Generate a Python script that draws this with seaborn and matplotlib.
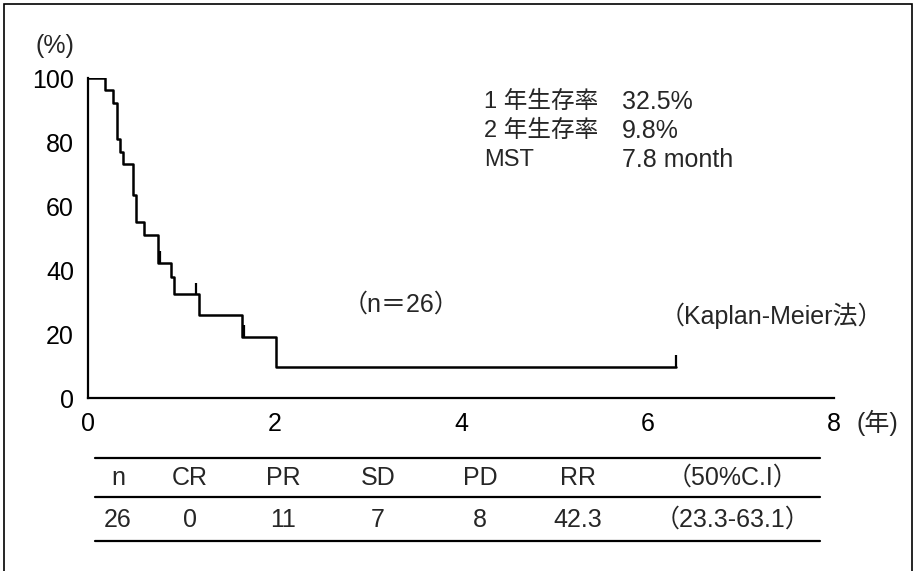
import matplotlib
matplotlib.use("Agg")
import matplotlib.pyplot as plt
from matplotlib import font_manager
from matplotlib.lines import Line2D
from matplotlib.patches import Rectangle
import pandas as pd
import seaborn as sns

# Kaplan-Meier steps (years, % surviving)
event_times = [0.0, 0.18, 0.27, 0.31, 0.34, 0.38, 0.48, 0.52, 0.60, 0.75, 0.89, 0.92, 1.19, 1.65, 2.02]
survival = [100, 96.2, 92.3, 80.8, 76.9, 73.1, 63.5, 55.0, 51.0, 42.3, 37.8, 32.5, 26.0, 19.2, 9.8]
last_followup = 6.31

# censored observations (small upward ticks)
censor_times = [0.77, 1.16, 1.67, 6.31]
censor_surv = [42.3, 32.5, 19.2, 9.8]

x_ticks = [0, 2, 4, 6, 8]
y_ticks = [0, 20, 40, 60, 80, 100]

stats_labels = ["1 年生存率", "2 年生存率", "MST"]
stats_values = ["32.5%", "9.8%", "7.8 month"]

table_header = ["n", "CR", "PR", "SD", "PD", "RR", "（50%C.I）"]
table_row = ["26", "0", "11", "7", "8", "42.3", "（23.3-63.1）"]

W, H = 915, 571


def fx(px):
    return px / W


def fy(py):
    return 1 - py / H


sns.set_theme(style="white")
plt.rcParams["font.family"] = ["Liberation Sans", "Noto Sans CJK JP", "DejaVu Sans"]
installed = {f.name for f in font_manager.fontManager.ttflist}
narrow = ["Liberation Sans Narrow"] if "Liberation Sans Narrow" in installed else []
table_family = narrow + ["Liberation Sans", "Noto Sans CJK JP", "DejaVu Sans"]

fig = plt.figure(figsize=(W / 100, H / 100), dpi=100)
fig.patch.set_facecolor("white")

# outer frame of the scanned figure
fig.add_artist(Rectangle((fx(4), -0.05), fx(908), fy(4) + 0.05, transform=fig.transFigure,
                         fill=False, lw=1.2, ec="black"))

ax = fig.add_axes([fx(88), fy(398), fx(834 - 88), (398 - 78) / H])

km = pd.DataFrame({"time": event_times + [last_followup],
                   "surv": survival + [survival[-1]]})
sns.lineplot(data=km, x="time", y="surv", drawstyle="steps-post", color="black",
             lw=1.8, estimator=None, ax=ax)
ax.vlines(censor_times, censor_surv, [s + 3.5 for s in censor_surv], color="black", lw=1.6)

ax.set_xlim(0, 8)
ax.set_ylim(0, 100)
ax.set_xticks(x_ticks)
ax.set_yticks(y_ticks)
ax.set_xlabel("")
ax.set_ylabel("")
sns.despine(ax=ax)
for s in ["left", "bottom"]:
    ax.spines[s].set_linewidth(1.6)
    ax.spines[s].set_color("black")
ax.tick_params(axis="both", direction="in", length=8, width=1.4, colors="black",
               labelsize=18)
ax.tick_params(axis="x", pad=10)
ax.tick_params(axis="y", pad=10)

fig.text(fx(55), fy(46), "(%)", fontsize=18, ha="center", va="center")
fig.text(fx(856), fy(423), "(年)", fontsize=18, ha="left", va="center")

for i, (lab, val) in enumerate(zip(stats_labels, stats_values)):
    yy = 102 + i * 29
    fig.text(fx(484), fy(yy), lab, fontsize=17, ha="left", va="center")
    fig.text(fx(622), fy(yy), val, fontsize=18, ha="left", va="center")

fig.text(fx(401), fy(305), "（n＝26）", fontsize=18, ha="center", va="center")
fig.text(fx(660), fy(316), "（Kaplan-Meier法）", fontsize=18, ha="left", va="center")

# response table under the curve
col_x = [118, 190, 283, 378, 480, 578, 733]
for y_line in [458, 497, 541]:
    fig.add_artist(Line2D([fx(95), fx(820)], [fy(y_line), fy(y_line)], lw=1.6, color="black"))
for cx, head, val in zip(col_x, table_header, table_row):
    fig.text(fx(cx), fy(478), head, fontsize=18, ha="center", va="center", family=table_family)
    fig.text(fx(cx), fy(520), val, fontsize=18, ha="center", va="center", family=table_family)

fig.savefig("out.png", dpi=100, facecolor="white")
